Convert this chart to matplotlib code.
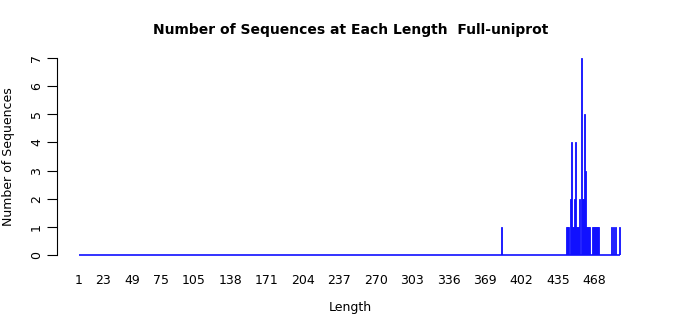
import numpy as np
import matplotlib
matplotlib.use("Agg")
import matplotlib.pyplot as plt

# sequence lengths that have at least one sequence, and how many
seq_lengths = [384, 443, 444, 445, 446, 447, 448, 449, 450, 451, 452, 453, 454,
               455, 456, 457, 458, 459, 460, 461, 462, 463, 464, 466, 467, 468,
               469, 470, 471, 472, 484, 485, 487, 491]
seq_counts = [1, 1, 1, 1, 2, 4, 1, 1, 2, 4, 1, 1, 1,
              2, 7, 2, 2, 5, 3, 1, 1, 1, 1, 1, 1, 1,
              1, 1, 1, 1, 1, 1, 1, 1]
min_length = 1
tick_values = [1, 23, 49, 75, 105, 138, 171, 204, 237, 270, 303, 336, 369, 402, 435, 468]

# every length in the range, zero where nothing was seen
all_lengths = np.arange(min_length, max(seq_lengths) + 1)
all_counts = np.zeros(len(all_lengths))
for l, c in zip(seq_lengths, seq_counts):
    all_counts[l - min_length] = c

fig = plt.figure(figsize=(7, 3.15), dpi=100)
ax = fig.add_axes([57 / 700, 60 / 315, 587 / 700, 197 / 315])

ax.bar(all_lengths, all_counts, width=0.9, color="#1010ff",
       edgecolor="#1010ff", linewidth=0.6)
# baseline across the full length range
ax.hlines(0, all_lengths[0], all_lengths[-1], color="#1010ff", linewidth=1.2, clip_on=False)

ax.set_xlim(-18.9, 513)
ax.set_ylim(0, 7)

ax.spines["top"].set_visible(False)
ax.spines["right"].set_visible(False)
ax.spines["bottom"].set_visible(False)

ax.set_xticks(tick_values)
ax.set_xticklabels([str(t) for t in tick_values])
ax.tick_params(axis="x", length=0, pad=14, labelsize=9)
ax.set_yticks(range(0, 8))
ax.tick_params(axis="y", length=7, direction="out", labelsize=9, labelrotation=90, pad=3)
for lab in ax.get_yticklabels():
    lab.set_va("center")

ax.set_title("Number of Sequences at Each Length  Full-uniprot",
             fontsize=10, fontweight="bold", pad=17.5)
ax.set_xlabel("Length", fontsize=9, labelpad=10)
ax.set_ylabel("Number of Sequences", fontsize=9, labelpad=11)

plt.savefig("out.png", dpi=100)
